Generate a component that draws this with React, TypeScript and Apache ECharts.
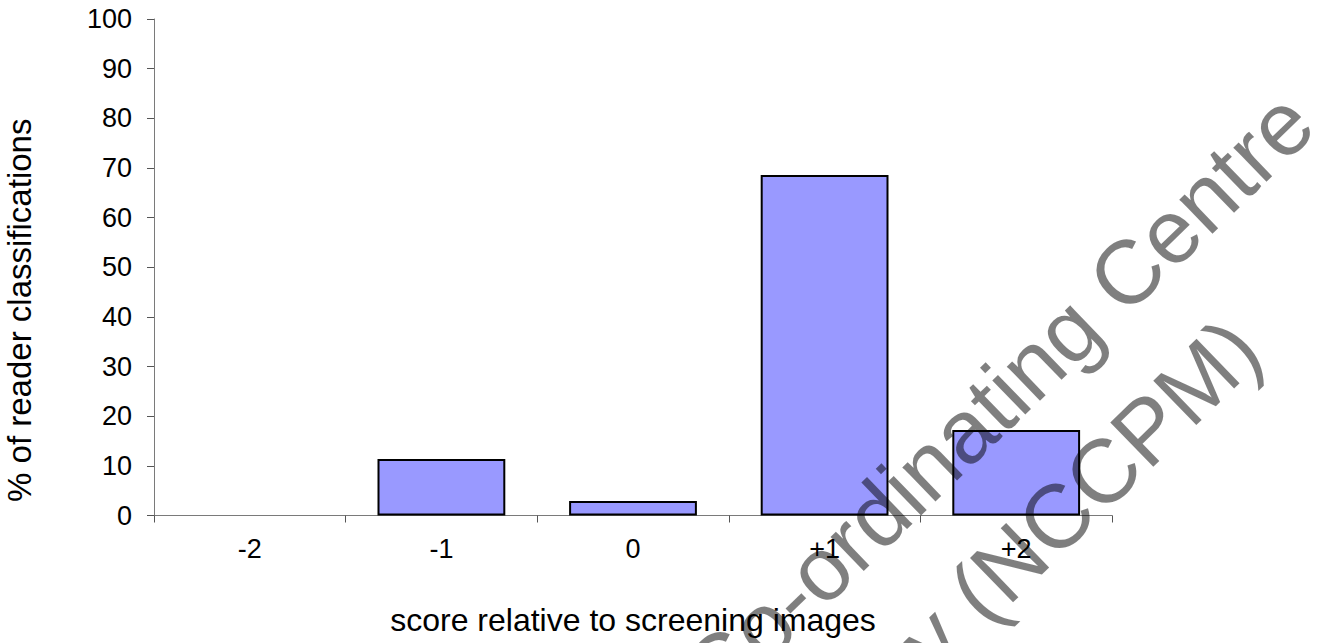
import React, { useEffect, useRef } from "react";
import * as echarts from "echarts";

const categories = ["-2", "-1", "0", "+1", "+2"];
const values = [0, 11.4, 2.9, 68.6, 17.2];
const yMin = 0;
const yMax = 100;
const yInterval = 10;
const xTitle = "score relative to screening images";
const yTitle = "% of reader classifications";
const watermarkLine1 = "Co-ordinating Centre";
const watermarkLine2 = "Mammography (NCCPM)";

const FONT = "'Liberation Sans', Arial, Helvetica, sans-serif";

export default function App() {
  const ref = useRef<HTMLDivElement>(null);
  useEffect(() => {
    if (!ref.current) return;
    const chart = echarts.init(ref.current, undefined, { renderer: "svg" });
    const rot = (44 * Math.PI) / 180;
    chart.setOption({
      animation: false,
      backgroundColor: "#ffffff",
      textStyle: { fontFamily: FONT },
      grid: {
        left: 154,
        top: 19,
        right: 223,
        bottom: 127.5,
        containLabel: false,
        outerBoundsMode: "none",
      },
      xAxis: {
        type: "category",
        data: categories,
        name: xTitle,
        nameLocation: "middle",
        nameGap: 88,
        nameTextStyle: { fontSize: 32, color: "#000", fontFamily: FONT },
        axisLine: { show: true, lineStyle: { color: "#7a7a7a", width: 1 } },
        axisTick: { show: true, length: 7, inside: false, lineStyle: { color: "#555", width: 1 } },
        axisLabel: { fontSize: 27, color: "#000", margin: 20, fontFamily: FONT },
        splitLine: { show: false },
      },
      yAxis: {
        type: "value",
        min: yMin,
        max: yMax,
        interval: yInterval,
        name: yTitle,
        nameLocation: "middle",
        nameGap: 118,
        nameRotate: 90,
        nameTextStyle: { fontSize: 33, color: "#000", fontFamily: FONT, padding: [0, 86, 0, 0] },
        axisLine: { show: true, lineStyle: { color: "#7a7a7a", width: 1 } },
        axisTick: { show: true, length: 7, inside: false, lineStyle: { color: "#555", width: 1 } },
        axisLabel: { fontSize: 27, color: "#000", margin: 22, fontFamily: FONT },
        splitLine: { show: false },
      },
      series: [
        {
          type: "bar",
          data: values.map((v) => (v === 0 ? { value: v, itemStyle: { borderWidth: 0 } } : v)),
          barCategoryGap: "33.3%",
          itemStyle: { color: "#9999ff", borderColor: "#000", borderWidth: 2 },
          silent: true,
        },
      ],
      graphic: [
        {
          type: "text",
          x: 1298,
          y: 108,
          rotation: rot,
          silent: true,
          z: 100,
          style: {
            text: watermarkLine1,
            font: `90px ${FONT}`,
            fill: "rgba(0,0,0,0.5)",
            align: "right",
            verticalAlign: "middle",
          },
        },
        {
          type: "text",
          x: 1245,
          y: 335,
          rotation: rot,
          silent: true,
          z: 100,
          style: {
            text: watermarkLine2,
            font: `90px ${FONT}`,
            fill: "rgba(0,0,0,0.5)",
            align: "right",
            verticalAlign: "middle",
          },
        },
      ],
    });
    return () => chart.dispose();
  }, []);
  return (
    <div
      ref={ref}
      style={{ position: "fixed", left: 0, top: 0, width: 1335, height: 643, background: "#fff" }}
    />
  );
}
